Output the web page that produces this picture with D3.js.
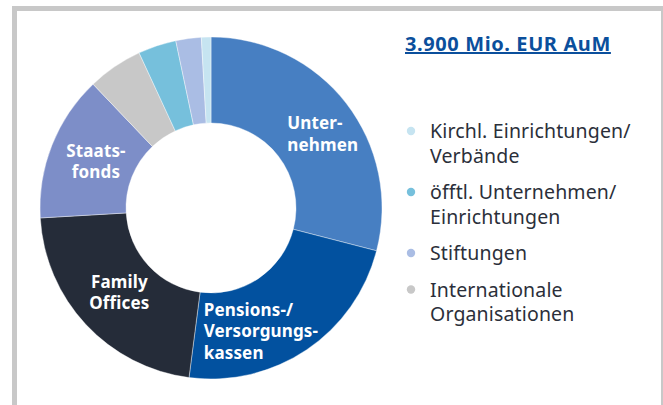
<!DOCTYPE html>
<html><head><meta charset="utf-8">
<script src="https://cdn.jsdelivr.net/npm/d3@7"></script>
<style>
html,body{margin:0;padding:0;background:#fff;}
svg{display:block;}
</style></head>
<body>
<svg id="chart" width="663" height="405"></svg>
<script>
const categories = ["Unternehmen","Pensions-/Versorgungskassen","Family Offices","Staatsfonds","Internationale Organisationen","öfftl. Unternehmen/Einrichtungen","Stiftungen","Kirchl. Einrichtungen/Verbände"];
const values = [29, 23, 22, 13.8, 5.2, 3.6, 2.4, 0.9];
const colors = ["#477fc2","#02519f","#252c39","#7d8ec8","#c8c8c8","#76c0dc","#aabde4","#c6e4f1"];
const sliceLabels = [["Unter-","nehmen"],["Pensions-/","Versorgungs-","kassen"],["Family","Offices"],["Staats-","fonds"],null,null,null,null];
const legendOrder = [7,5,6,4];
const legendLines = [["Kirchl. Einrichtungen/","Verbände"],["öfftl. Unternehmen/","Einrichtungen"],["Stiftungen"],["Internationale","Organisationen"]];
const title = "3.900 Mio. EUR AuM";

const svg = d3.select("#chart");
// frame
svg.append("rect").attr("x",14.5).attr("y",8.5).attr("width",649).attr("height",430)
  .attr("fill","none").attr("stroke","#c8c8c8").attr("stroke-width",5);

const cx = 211, cy = 208, R = 171, r = 85;
const g = svg.append("g").attr("transform",`translate(${cx},${cy})`);
const pie = d3.pie().sort(null).value(d=>d)(values);
const arc = d3.arc().innerRadius(r).outerRadius(R);
g.selectAll("path.slice").data(pie).join("path").attr("class","slice")
  .attr("d",arc).attr("fill",(d,i)=>colors[i]).attr("stroke","#fff").attr("stroke-width",0.4);

// slice labels
const labelLayout = [
  {anchor:"start", dx:-25, dy:-6},
  {anchor:"start", dx:-79, dy:-4},
  {anchor:"middle", dx:2, dy:-13},
  {anchor:"middle", dx:4, dy:-10}
];
const lineH = 21.5;
pie.forEach((p,i)=>{
  const lines = sliceLabels[i]; if(!lines) return;
  const c = arc.centroid(p), L = labelLayout[i];
  const t = g.append("text").attr("text-anchor",L.anchor)
    .attr("font-family","'Noto Sans', sans-serif").attr("font-weight","bold")
    .attr("font-size","17px").attr("letter-spacing","0.15px").attr("fill","#fff");
  lines.forEach((s,k)=>{
    t.append("tspan").attr("x",c[0]+L.dx).attr("y",c[1]+L.dy+k*lineH+5.5).text(s);
  });
});

// title
svg.append("text").attr("x",405).attr("y",51).attr("font-family","'Noto Sans', sans-serif")
  .attr("font-weight","bold").attr("font-size","20px").attr("letter-spacing","0.6px").attr("fill","#0b4f9c")
  .attr("text-decoration","underline").text(title);

// legend
let y = 131;
const lg = svg.append("g");
legendOrder.forEach((ci,k)=>{
  lg.append("circle").attr("cx",411).attr("cy",y).attr("r",4.2).attr("fill",colors[ci]);
  const t = lg.append("text").attr("font-family","'Noto Sans', sans-serif").attr("font-size","19.5px")
    .attr("letter-spacing","0.15px").attr("fill","#2b2f3a");
  legendLines[k].forEach((s,j)=>{
    t.append("tspan").attr("x",430).attr("y",y+j*24.5+7).text(s);
  });
  y += (legendLines[k].length-1)*24.5 + 36.5;
});
</script>
</body></html>
